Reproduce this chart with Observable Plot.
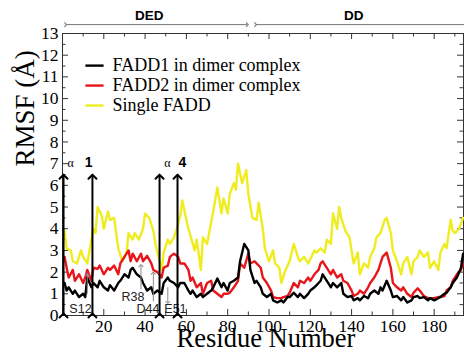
<!DOCTYPE html>
<html><head><meta charset="utf-8">
<script src="https://cdn.jsdelivr.net/npm/d3@7"></script>
<script src="https://cdn.jsdelivr.net/npm/@observablehq/plot@0.6"></script>
<style>html,body{margin:0;padding:0;background:#fff;}</style>
</head><body><div id="chart"></div>
<script>
// ---- data ----
const resDimer = [1,2,3,5,6,8,10,11,12,14,15,17,18,20,22,23,25,27,28,30,32,33,34,36,38,39,41,43,44,46,48,49,51,52,54,56,
57,59,61,62,63,65,67,68,70,72,73,75,77,78,80,81,83,85,86,88,
90,91,93,94,96,97,99,101,102,104,106,107,109,110,112,114,115,117,119,120,
122,124,125,126,128,130,131,133,135,136,138,140,141,143,144,146,148,149,151,153,
154,155,157,159,160,162,164,165,167,169,170,172,173,175,177,178,180,182,183,185,
186,188,189,191,193,194];
const fadd1 = [1.5,1.15,1.3,1.0,1.15,0.85,1.0,0.85,1.75,1.3,1.5,1.3,1.6,1.3,1.15,1.4,1.15,1.5,1.6,1.9,1.75,2.1,2.2,1.9,1.75,1.5,1.15,1.3,1.0,1.15,1.0,1.5,1.75,1.6,1.5,1.3,
1.5,1.5,1.15,1.0,1.15,0.85,1.0,0.85,1.0,1.15,1.3,1.7,1.3,1.5,1.15,1.5,1.6,1.75,2.5,3.3,
3.0,2.1,1.5,1.6,1.3,1.0,0.85,1.0,0.7,0.6,0.7,0.6,0.85,0.85,1.05,0.85,1.0,0.8,1.0,1.15,
1.3,1.5,1.6,1.9,1.6,1.3,1.5,1.3,1.5,1.0,0.85,0.9,0.7,0.8,0.7,0.9,0.8,1.0,1.15,1.0,
1.3,1.15,1.6,1.15,0.85,0.9,0.7,0.85,0.6,0.7,0.85,0.9,0.8,0.85,0.7,0.8,0.7,0.8,0.85,1.0,
1.05,1.3,1.5,1.75,2.2,2.85];
const fadd2 = [2.7,2.2,1.75,2.1,1.6,1.9,1.5,1.75,2.1,1.6,2.2,2.15,2.3,1.9,2.2,2.1,2.3,1.9,2.4,2.7,3.0,2.5,2.85,2.5,2.85,2.5,2.75,2.4,2.1,2.0,1.75,2.2,2.3,2.7,2.85,2.7,
2.4,2.4,2.1,1.6,1.75,1.3,1.5,1.0,1.5,1.6,1.15,1.0,0.85,1.0,1.0,1.05,1.3,1.6,2.4,2.2,
2.85,2.4,2.5,2.4,2.2,1.75,1.5,1.15,0.85,0.8,0.8,0.85,0.9,1.05,1.5,1.3,1.6,1.5,1.75,1.6,
1.9,2.1,2.4,2.5,2.2,1.9,2.1,1.75,1.9,1.6,1.5,1.15,0.9,1.0,1.15,1.0,1.3,1.5,1.75,2.1,
2.4,2.7,2.9,2.2,1.5,1.3,1.15,1.3,1.0,0.85,1.05,1.25,1.15,0.9,0.8,0.8,0.8,0.85,0.85,0.9,
1.15,1.3,1.6,1.9,2.1,2.4];
const resSingle = [1,2,4,5,7,9,10,12,14,15,16,17,19,20,22,23,25,26,27,29,31,32,34,35,37,39,40,42,44,45,
47,48,49,51,52,54,56,57,58,60,61,64,65,67,68,70,73,75,77,78,80,81,83,84,85,87,89,90,92,94,
95,97,98,100,102,103,105,106,108,110,112,114,115,117,119,122,123,125,127,128,130,131,133,134,135,137,139,140,141,143,
144,146,148,149,151,152,154,156,157,159,160,162,164,165,167,169,170,172,173,175,177,178,180,182,183,185,186,188,189,190,192,194];
const single = [3.9,3.1,3.0,2.5,2.4,3.0,2.7,2.4,3.5,4.0,3.8,5.0,4.6,4.0,4.8,4.4,4.5,3.8,3.1,2.5,
2.9,3.8,3.5,3.8,3.5,4.0,4.7,4.5,3.9,3.3,2.5,2.1,2.9,3.5,3.3,3.6,4.2,4.6,5.3,4.4,
4.0,3.0,3.5,2.1,3.6,3.3,4.8,5.9,4.7,5.4,4.7,5.6,6.1,5.8,7.0,6.1,6.7,5.6,4.5,4.4,
5.2,4.0,3.1,2.5,3.0,2.4,2.2,1.5,2.1,2.5,3.3,2.7,2.5,2.7,2.4,3.0,2.9,3.1,2.9,3.5,
3.3,4.7,4.0,5.0,4.5,3.9,3.6,3.0,2.4,2.9,1.9,2.4,2.2,2.7,3.1,3.6,3.8,4.4,4.5,3.8,
3.0,2.5,1.9,2.4,2.7,1.9,2.5,2.7,3.0,2.7,2.9,2.2,2.5,2.1,2.9,3.3,3.1,4.4,3.9,3.8,4.0,4.5];

const seriesNames = ["FADD1 in dimer complex", "FADD2 in dimer complex", "Single FADD"];
const seriesColors = ["#000000", "#e8161b", "#efec20"];
const xTickValues = [0,20,40,60,80,100,120,140,160,180];
const xMinorTicks = [10,30,50,70,90,110,130,150,170,190];
const yTickValues = [0,1,2,3,4,5,6,7,8,9,10,11,12,13];
const yMinorTicks = [0.5,1.5,2.5,3.5,4.5,5.5,6.5,7.5,8.5,9.5,10.5,11.5,12.5];
const domainNames = ["DED", "DD"];
const domainStart = [1.5, 93.5];
const domainEnd = [89.5, 196];
const domainLabelAt = [42, 141];
const helixArrows = [0.5, 14.5, 47, 55.7];
const helixTop = 6.4;
const helixLabelText = ["α", "1", "α", "4"];
const helixLabelAt = [3.9, 12.6, 50.8, 58.1];
const siteNames = ["S12", "R38", "D44", "E51"];
const siteResidue = [12, 38, 44, 51];
const siteFrom = [1.0, 1.2, 0.65, 1.3];
const siteTo = [1.9, 2.3, 1.95, 0.6];
const siteLabelAt = [8.7, 34.1, 41.4, 54.7];
const siteLabelY = [0.32, 0.83, 0.32, 0.32];

// ---- tables built from arrays ----
const rows = [
  ...resSingle.map((r, i) => ({residue: r, rmsf: single[i], series: seriesNames[2]})),
  ...resDimer.map((r, i) => ({residue: r, rmsf: fadd2[i], series: seriesNames[1]})),
  ...resDimer.map((r, i) => ({residue: r, rmsf: fadd1[i], series: seriesNames[0]}))
];
const domains = domainNames.map((n, i) => ({name: n, start: domainStart[i], end: domainEnd[i], at: domainLabelAt[i]}));
const helixLabels = helixLabelText.map((t, i) => ({text: t, at: helixLabelAt[i], bold: i % 2 === 1}));
const sites = siteNames.map((n, i) => ({name: n, res: siteResidue[i], from: siteFrom[i], to: siteTo[i], lx: siteLabelAt[i], ly: siteLabelY[i]}));
const legend = seriesNames.map((n, i) => ({name: n, color: seriesColors[i], y: 11.52 - i * 0.92}));

const serif = "'Liberation Serif', 'Times New Roman', serif";
const sans = "'Liberation Sans', Arial, sans-serif";
const XMAX = 194.2;
const tickLen = 6 / 2.065, minorLenX = 3.5 / 2.065;
const tickLenY = 6 / 21.7, minorLenY = 3.5 / 21.7;

const chart = Plot.plot({
  width: 464, height: 358,
  marginLeft: 62, marginRight: 1, marginTop: 33, marginBottom: 43,
  style: {fontFamily: serif, fontSize: "17.5px", background: "#fff", color: "#000", overflow: "visible"},
  x: {domain: [0, XMAX], ticks: 10, tickSize: 0, tickPadding: 4, tickFormat: d => d === 0 ? "" : d, label: null},
  y: {domain: [0, 13], ticks: 13, tickSize: 0, tickPadding: 4, label: null},
  color: {domain: seriesNames, range: seriesColors},
  marks: [
    Plot.frame({stroke: "#333", strokeWidth: 1}),
    // ticks (inward)
    Plot.ruleY(yTickValues, {x1: 0, x2: tickLen, stroke: "#333"}),
    Plot.ruleY(yMinorTicks, {x1: 0, x2: minorLenX, stroke: "#333"}),
    Plot.ruleY(yTickValues, {x1: XMAX, x2: XMAX - tickLen, stroke: "#333"}),
    Plot.ruleY(yMinorTicks, {x1: XMAX, x2: XMAX - minorLenX, stroke: "#333"}),
    Plot.ruleX(xTickValues, {y1: 0, y2: tickLenY, stroke: "#333"}),
    Plot.ruleX(xMinorTicks, {y1: 0, y2: minorLenY, stroke: "#333"}),
    Plot.ruleX(xTickValues, {y1: 13, y2: 13 - tickLenY, stroke: "#333"}),
    Plot.ruleX(xMinorTicks, {y1: 13, y2: 13 - minorLenY, stroke: "#333"}),
    // data lines
    ...[2, 1, 0].map(k => Plot.line(rows.filter(d => d.series === seriesNames[k]), {
      x: "residue", y: "rmsf", stroke: "series", strokeWidth: 2.4, strokeLinejoin: "round"
    })),
    // site arrows (gray)
    Plot.link(sites, {x1: "res", x2: "res", y1: "from", y2: "to", stroke: "#8a8a8a", strokeWidth: 1, markerEnd: "arrow"}),
    Plot.text(sites, {x: "lx", y: "ly", text: "name", fontFamily: sans, fontSize: 12.5, fill: "#222"}),
    // helix arrows
    Plot.link(helixArrows, {x1: d => d, x2: d => d, y1: 0, y2: helixTop, stroke: "#000", strokeWidth: 2, markerStart: "arrow", markerEnd: "arrow"}),
    Plot.text(helixLabels.filter(d => !d.bold), {x: "at", y: 7.0, text: "text", fontFamily: serif, fontSize: 12}),
    Plot.text(helixLabels.filter(d => d.bold), {x: "at", y: 7.05, text: "text", fontFamily: sans, fontSize: 14, fontWeight: "bold"}),
    // domain arrows above
    Plot.link(domains, {x1: "start", x2: "end", y1: 13.41, y2: 13.41, stroke: "#777", strokeWidth: 1, markerStart: "arrow", markerEnd: "arrow"}),
    Plot.text(domains, {x: "at", y: 13.82, text: "name", fontFamily: sans, fontSize: 13.5, fontWeight: "bold"}),
    // legend
    Plot.link(legend, {x1: 11.1, x2: 19.9, y1: "y", y2: "y", stroke: "color", strokeWidth: 2.4}),
    Plot.text(legend, {x: 24.2, y: "y", text: "name", textAnchor: "start", fontFamily: serif, fontSize: 18}),
    // axis titles
    Plot.text(["RMSF (Å)"], {frameAnchor: "left", text: d => d, rotate: -90, dx: -37, dy: -8, fontFamily: serif, fontSize: 27}),
    Plot.text(["Residue Number"], {frameAnchor: "bottom", text: d => d, dx: 3, dy: 31, fontFamily: serif, fontSize: 26.5})
  ]
});
document.getElementById("chart").appendChild(chart);
</script>
</body></html>
